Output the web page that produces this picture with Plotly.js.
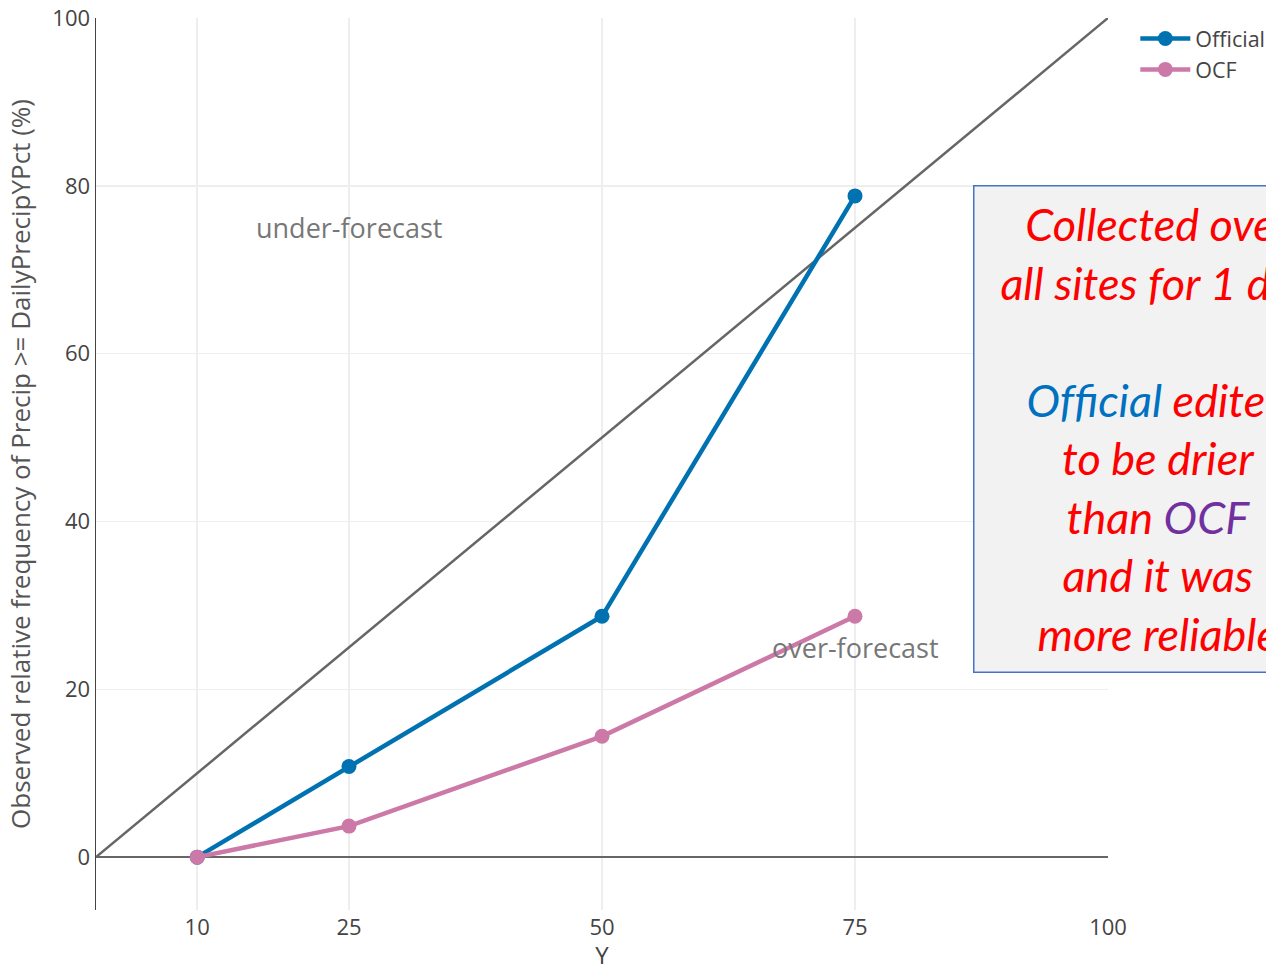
<!DOCTYPE html>
<html>
<head>
<meta charset="utf-8">
<script src="https://cdn.plot.ly/plotly-3.0.1.min.js"></script>
<style>
html,body{margin:0;padding:0;background:#fff;overflow:hidden;}
#chart{width:1266px;height:971px;}
</style>
</head>
<body>
<div id="chart"></div>
<script>
// Data
const categories = [10, 25, 50, 75];
const officialValues = [0, 10.8, 28.7, 78.8];
const ocfValues = [0, 3.7, 14.4, 28.7];
const diagonalX = [0, 100];
const diagonalY = [0, 100];
const xTickVals = [10, 25, 50, 75, 100];
const yTickVals = [0, 20, 40, 60, 80, 100];
const seriesNames = ['Official', 'OCF'];

const traces = [
  {
    x: diagonalX, y: diagonalY, mode: 'lines', showlegend: false, hoverinfo: 'skip',
    line: {color: '#666666', width: 2.5}
  },
  {
    x: categories, y: officialValues, name: seriesNames[0], mode: 'lines+markers',
    line: {color: '#0072B2', width: 4.5}, marker: {color: '#0072B2', size: 15}
  },
  {
    x: categories, y: ocfValues, name: seriesNames[1], mode: 'lines+markers',
    line: {color: '#CC79A7', width: 4.5}, marker: {color: '#CC79A7', size: 15}
  }
];

const boxText =
  '<i>Collected over<br>all sites for 1 day<br> <br>' +
  '<span style="color:#0070C0">Of\u200Cficial</span> edited<br>to be drier<br>' +
  'than <span style="color:#7030A0">OCF</span><br>and it was<br>more reliable</i>';

const layout = {
  width: 1266, height: 971,
  margin: {l: 96, r: 158, t: 18, b: 61, autoexpand: false},
  paper_bgcolor: '#ffffff', plot_bgcolor: '#ffffff',
  font: {family: '"Open Sans", sans-serif', color: '#444444', size: 18},
  showlegend: true,
  legend: {
    x: 1.027, xanchor: 'left', y: 1.0, yanchor: 'top',
    font: {size: 21.5, color: '#444444'}, itemwidth: 50, tracegroupgap: 0,
    bgcolor: 'rgba(0,0,0,0)'
  },
  xaxis: {
    range: [0, 100], tickvals: xTickVals, ticktext: xTickVals.map(String),
    showgrid: true, gridcolor: '#eeeeee', gridwidth: 1.5, zeroline: false, showline: false,
    ticks: '', tickfont: {size: 22, color: '#444444'}, ticklabelstandoff: 2,
    title: {text: 'Y', font: {size: 24, color: '#444444'}, standoff: 24}
  },
  yaxis: {
    range: [-6.3, 100], tickvals: yTickVals, ticktext: yTickVals.map(String),
    showgrid: true, gridcolor: '#eeeeee', gridwidth: 1.5,
    zeroline: true, zerolinecolor: '#666666', zerolinewidth: 2,
    showline: true, linecolor: '#444444', linewidth: 1.5,
    ticks: '', tickfont: {size: 22, color: '#444444'},
    title: {text: 'Observed relative frequency of Precip >= DailyPrecipYPct (%)',
            font: {size: 26, color: '#555555'}, standoff: 14}
  },
  annotations: [
    {x: 25, y: 75, xref: 'x', yref: 'y', text: 'under-forecast', showarrow: false,
     font: {size: 27, color: '#777777', family: '"Open Sans", sans-serif'}},
    {x: 75, y: 25, xref: 'x', yref: 'y', text: 'over-forecast', showarrow: false,
     font: {size: 27, color: '#777777', family: '"Open Sans", sans-serif'}},
    {x: 0.8666, y: 0.5387, xref: 'paper', yref: 'paper', xanchor: 'left', yanchor: 'middle',
     text: boxText, showarrow: false, align: 'center', valign: 'middle',
     width: 366, height: 483, borderpad: 1,
     bgcolor: '#f2f2f2', bordercolor: '#4472C4', borderwidth: 1.5,
     font: {size: 45, color: '#ff0000', family: 'Lato, "Open Sans", sans-serif'}}
  ]
};

Plotly.newPlot('chart', traces, layout, {displayModeBar: false, staticPlot: true});
</script>
</body>
</html>
